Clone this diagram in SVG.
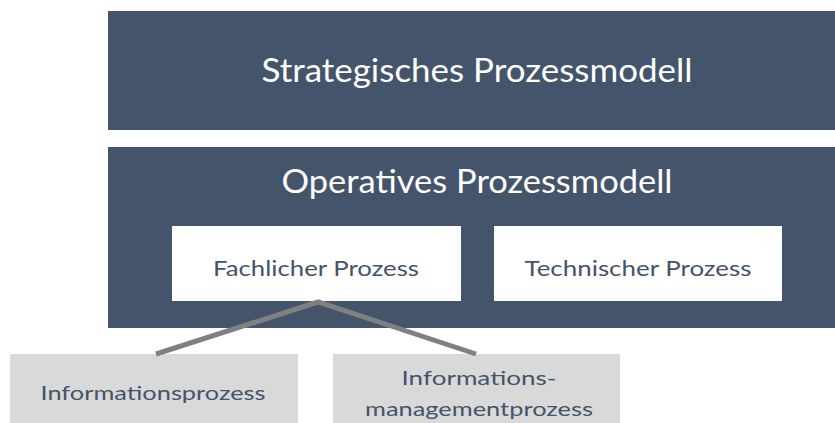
<svg xmlns="http://www.w3.org/2000/svg" width="835" height="423" viewBox="0 0 835 423">
<style>
.dark{fill:#44546A}
.white{fill:#FFFFFF}
.grey{fill:#D9D9D9}
.t{font-family:Lato,"Open Sans","Liberation Sans",sans-serif;text-anchor:middle}
.big{font-size:32px;fill:#FFFFFF}
.mid{font-size:22px;fill:#44546A}
.sm{font-size:20px;fill:#44546A}
.conn{stroke:#808080;stroke-width:5;fill:none}
</style>
<g id="strategisch">
<rect class="dark" x="108" y="11" width="727" height="119"/>
<text class="t big" x="477" y="82" textLength="431" lengthAdjust="spacingAndGlyphs">Strategisches Prozessmodell</text>
</g>
<g id="operativ">
<rect class="dark" x="108" y="147" width="727" height="181"/>
<text class="t big" x="477" y="193" textLength="391" lengthAdjust="spacingAndGlyphs">Operatives Prozessmodell</text>
</g>
<g id="fachlich">
<rect class="white" x="172" y="226" width="289" height="75"/>
<text class="t mid" x="316" y="276" textLength="206" lengthAdjust="spacingAndGlyphs">Fachlicher Prozess</text>
</g>
<g id="technisch">
<rect class="white" x="494" y="226" width="288" height="75"/>
<text class="t mid" x="638" y="276" textLength="227" lengthAdjust="spacingAndGlyphs">Technischer Prozess</text>
</g>
<g id="informationsprozess">
<rect class="grey" x="10" y="354" width="288" height="69"/>
<text class="t sm" x="153" y="400" textLength="225" lengthAdjust="spacingAndGlyphs">Informationsprozess</text>
</g>
<g id="informationsmanagementprozess">
<rect class="grey" x="333" y="354" width="287" height="69"/>
<text class="t sm" x="479" y="385" textLength="155" lengthAdjust="spacingAndGlyphs">Informations-</text>
<text class="t sm" x="479" y="416" textLength="228" lengthAdjust="spacingAndGlyphs">managementprozess</text>
</g>
<g id="connectors">
<polyline class="conn" points="156,354 318,302 476,354"/>
</g>
</svg>
